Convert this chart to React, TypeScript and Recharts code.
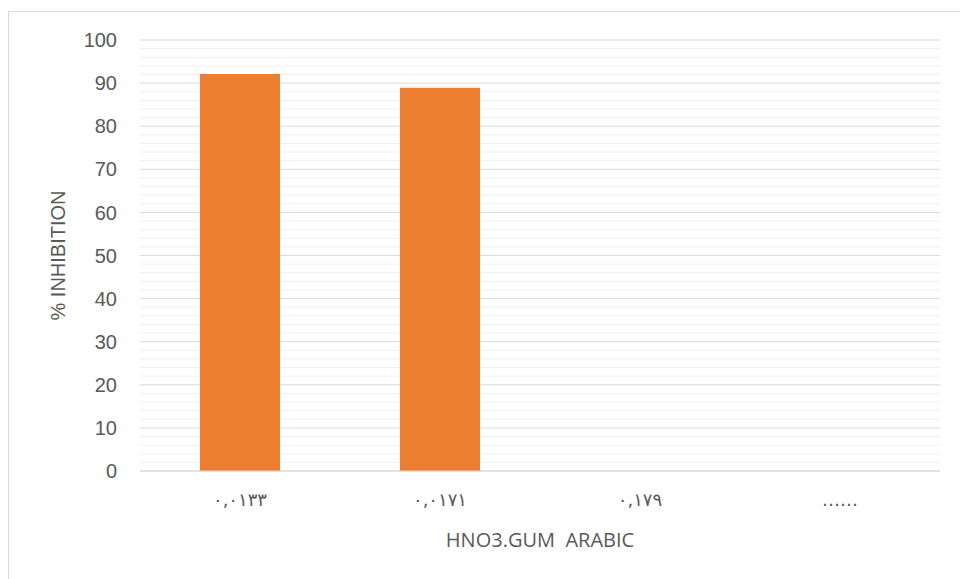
import React from "react";
import { BarChart, Bar, XAxis, YAxis, CartesianGrid } from "recharts";

const categories = ["٠,٠١٣٣", "٠,٠١٧١", "٠,١٧٩", "……"];
const inhibition = [92.1, 88.9, 0, 0];
const majorTicks = [0, 10, 20, 30, 40, 50, 60, 70, 80, 90, 100];
const minorTicks = [
  2, 4, 6, 8, 12, 14, 16, 18, 22, 24, 26, 28, 32, 34, 36, 38, 42, 44, 46, 48,
  52, 54, 56, 58, 62, 64, 66, 68, 72, 74, 76, 78, 82, 84, 86, 88, 92, 94, 96, 98,
];

const data = categories.map((c, i) => ({ name: c, value: inhibition[i] }));

export default function App() {
  return (
    <div
      style={{
        position: "absolute",
        left: 0,
        top: 0,
        width: 960,
        height: 579,
        overflow: "hidden",
        background: "#fff",
      }}
    >
      <div
        style={{
          position: "absolute",
          left: 8,
          top: 11,
          width: 1000,
          height: 700,
          borderLeft: "1px solid #d9d9d9",
          borderTop: "1px solid #d9d9d9",
          boxSizing: "border-box",
        }}
      />
      <div style={{ position: "absolute", left: 0, top: 0 }}>
        <BarChart
          width={960}
          height={579}
          data={data}
          margin={{ top: 40, right: 20, bottom: 48, left: 0 }}
        >
          <CartesianGrid
            vertical={false}
            stroke="#f0f0f0"
            strokeWidth={1}
            horizontalValues={minorTicks}
          />
          <CartesianGrid
            vertical={false}
            stroke="#d9d9d9"
            strokeWidth={1}
            horizontalValues={majorTicks}
          />
          <YAxis
            domain={[0, 100]}
            ticks={majorTicks}
            width={140}
            axisLine={false}
            tickLine={false}
            tickSize={0}
            tickMargin={23}
            interval={0}
            tick={{ fill: "#595959", fontSize: 20, fontFamily: "Liberation Sans" }}
            label={{
              value: "% INHIBITION",
              angle: -90,
              position: "insideLeft",
              offset: 58,
              style: {
                fill: "#595959",
                fontSize: 20,
                fontFamily: "Liberation Sans",
                textAnchor: "middle",
              },
            }}
          />
          <XAxis
            dataKey="name"
            height={60}
            axisLine={{ stroke: "#d9d9d9" }}
            tickLine={false}
            tickSize={0}
            tickMargin={22}
            interval={0}
            tick={{ fill: "#595959", fontSize: 18, fontFamily: "DejaVu Sans" }}
            label={{
              value: "HNO3.GUM\u00A0\u00A0ARABIC",
              position: "insideBottom",
              offset: -16,
              style: {
                fill: "#595959",
                fontSize: 20,
                fontFamily: "Open Sans",
              },
            }}
          />
          <Bar dataKey="value" fill="#ED7D31" barSize={80} isAnimationActive={false} />
        </BarChart>
      </div>
    </div>
  );
}
